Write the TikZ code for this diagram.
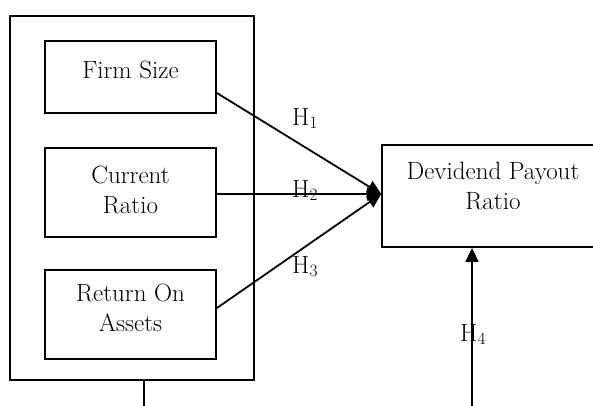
\documentclass[tikz,border=0pt]{standalone}
\usetikzlibrary{arrows.meta,calc}
\begin{document}
\begin{tikzpicture}[x=1pt,y=-1pt,
  box/.style={draw,line width=1.8pt,minimum width=#1,inner sep=0pt},
  txt/.style={font=\fontsize{25}{30}\selectfont,align=center,inner sep=0pt,anchor=north},
  hlab/.style={font=\fontsize{25}{30}\selectfont,inner sep=0pt,anchor=base west},
  conn/.style={line width=1.8pt,-{Triangle[length=14pt,width=13pt]}},
  plain/.style={line width=1.8pt}]
\useasboundingbox (0,0) rectangle (593,405);
% outer frame
\node[box, minimum width=244pt, minimum height=364pt] (outer) at (132,198) {};
% inner boxes
\node[box, minimum width=171pt, minimum height=72pt] (fs) at (130.5,77) {};
\node[box, minimum width=171pt, minimum height=89pt] (cr) at (130.5,192.5) {};
\node[box, minimum width=171pt, minimum height=89pt] (roa) at (130.5,314.5) {};
\node[box, minimum width=222pt, minimum height=102pt] (dp) at (493,196) {};
% texts
\node[txt] (tfs) at (130.5,61) {Firm Size};
\node[txt] (tcr) at (130.5,166) {Current\\Ratio};
\node[txt] (troa) at (130.5,284) {Return On\\Assets};
\node[txt] (tdp) at (493,162) {Devidend Payout\\Ratio};
% connectors
\draw[conn] ([yshift=-16pt]fs.east) -- ([yshift=2pt]dp.west);
\draw[conn] ([yshift=-1.5pt]cr.east) -- ([yshift=2pt]dp.west);
\draw[conn] ([yshift=6.5pt]roa.east) -- ([yshift=2pt]dp.west);
\coordinate (b4) at (472,410);
\draw[conn] (b4) -- (dp.south -| b4);
\coordinate (b0) at (144,410);
\draw[plain] (outer.south -| b0) -- (b0);
% labels
\node[hlab] (h1) at (292,125) {H$_1$};
\node[hlab] (h2) at (292,197) {H$_2$};
\node[hlab] (h3) at (292,273) {H$_3$};
\node[hlab] (h4) at (460,341) {H$_4$};
\end{tikzpicture}
\end{document}
